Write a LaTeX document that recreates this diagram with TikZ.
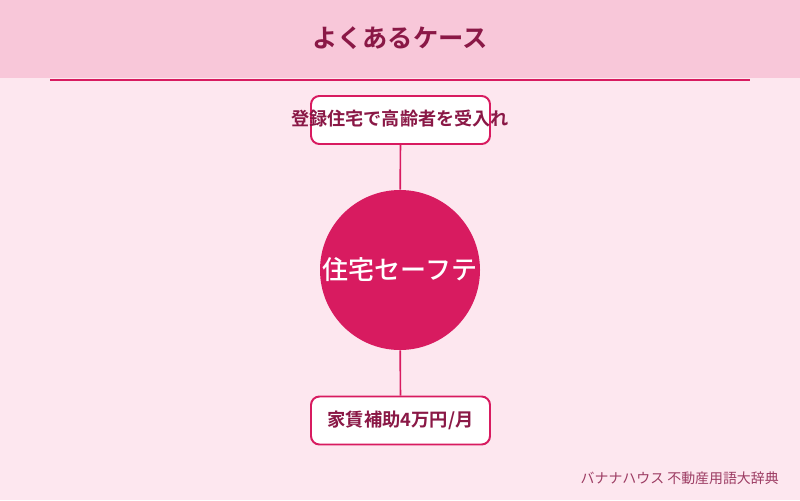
\documentclass[tikz,border=0pt]{standalone}
\usepackage{fontspec}
\setmainfont{Noto Sans CJK JP}[BoldFont={Noto Sans CJK JP Bold}]
\newfontfamily\trungfont{Noto Sans CJK JP Medium}
\definecolor{nenbg}{HTML}{FDE7EF}
\definecolor{nenhead}{HTML}{F8C7D9}
\definecolor{dohong}{HTML}{D81B60}
\definecolor{chudam}{HTML}{8A1846}
\begin{document}
\begin{tikzpicture}[x=0.025cm,y=-0.025cm]
		\tikzset{
			every node/.style={inner sep=0pt},
			% hop chu
			hop/.style={draw=dohong,line width=1.4pt,fill=white,rounded corners=6pt,minimum width=179*0.025cm,minimum height=48*0.025cm,font=\fontsize{13}{15}\selectfont\bfseries,text=chudam},
			% duong noi
			noi/.style={draw=dohong,line width=1.2pt},
		}
		%
		\fill[nenbg](0,0)rectangle(800,500);
		\fill[nenhead](0,0)rectangle(800,78);
		\draw[dohong,line width=1.4pt](50,80)--(750,80);
		\node[font=\fontsize{18}{20}\selectfont\bfseries,text=chudam](title) at (400,38){よくあるケース};
		%
		\node[hop](topbox) at (400.5,120){};
		\node[font=\fontsize{12.9}{14}\selectfont\bfseries,text=chudam](toptext) at (400,119){登録住宅で高齢者を受入れ};
		\node[circle,fill=dohong,minimum size=160*0.025cm](core) at (400,270){};
		\node[font=\fontsize{18.5}{20}\selectfont\trungfont,text=white](coretext) at (400,270){住宅セーフテ};
		\node[hop](bottombox) at (400.5,420.5){家賃補助4万円/月};
		%
		\draw[noi](topbox)--(core);
		\draw[noi](core)--(bottombox);
		\node[anchor=east,font=\fontsize{9.9}{11}\selectfont,text=chudam!85](footer) at (779,478){バナナハウス 不動産用語大辞典};
\end{tikzpicture}
\end{document}
